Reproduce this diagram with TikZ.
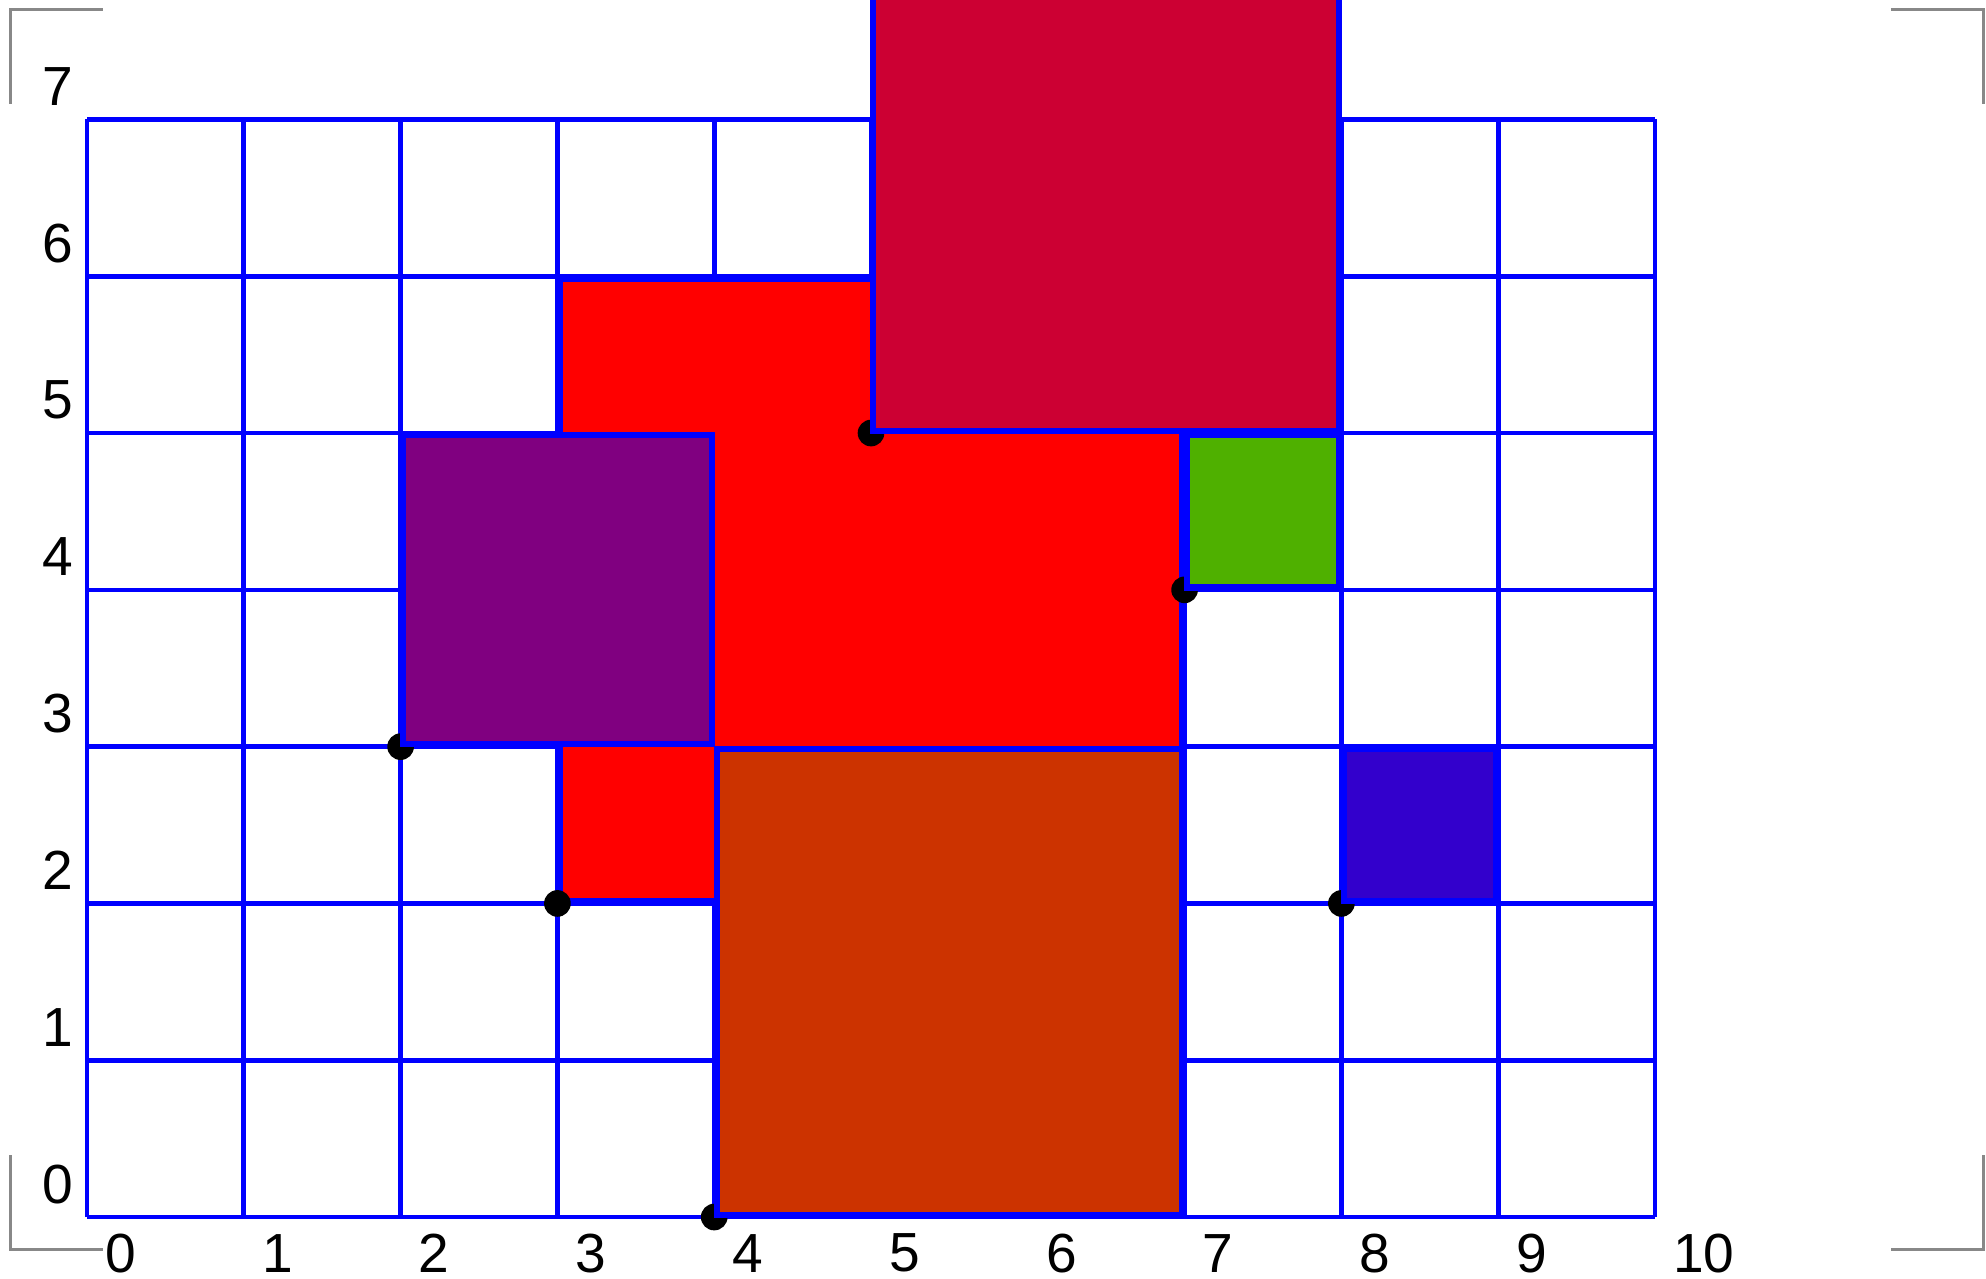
\documentclass[tikz,border=0pt]{standalone}
\usepackage{fontspec}
\setmainfont{Liberation Sans}
\usetikzlibrary{positioning}
\definecolor{gridblue}{RGB}{0,0,255}
\definecolor{rred}{RGB}{255,0,0}
\definecolor{crimson}{RGB}{204,0,51}
\definecolor{plum}{RGB}{128,0,128}
\definecolor{leafgreen}{RGB}{79,176,0}
\definecolor{rust}{RGB}{204,51,0}
\definecolor{indigo}{RGB}{51,0,204}
\definecolor{markgray}{RGB}{136,136,136}

\begin{document}
\begin{tikzpicture}[
		gridline/.style={draw=gridblue, line width=0.85pt},
		blk/.style={draw=gridblue, line width=1.1pt},
		corner/.style={circle, fill=black, inner sep=0pt, minimum size=0.17cm},
		num/.style={font=\fontsize{10}{12}\selectfont, inner sep=0pt, anchor=west},
		crop/.style={draw=markgray, line width=0.55pt}
	]
	\clip (-0.555,-0.395) rectangle (12.111,7.762);
	% crop marks
	\draw[crop] (0.1,7.70) -- (-0.49,7.70) -- (-0.49,7.10);
	\draw[crop] (11.505,7.70) -- (12.095,7.70) -- (12.095,7.10);
	\draw[crop] (-0.49,0.395) -- (-0.49,-0.21) -- (0.1,-0.21);
	\draw[crop] (12.095,0.395) -- (12.095,-0.21) -- (11.505,-0.21);
	% grid and numbers
	\draw[gridline] (0,0) grid (10,7);
	\foreach \i in {0,...,10}
		\node[num] (xl\i) at (\i+0.11,-0.23) {\i};
	\foreach \j in {0,...,7}
		\node[num] (yl\j) at (-0.29,\j+0.21) {\j};
	% blocks
	\draw[blk, fill=rred] (3.015,2.015) rectangle (6.985,5.985);
	\node[corner] (c1) at (3,2) {};
	\node[corner] (c2) at (2,3) {};
	\draw[blk, fill=plum] (2.015,3.015) rectangle (3.985,4.985);
	\node[corner] (c3) at (4,0) {};
	\draw[blk, fill=rust] (4.015,0.015) rectangle (6.985,2.985);
	\node[corner] (c4) at (5,5) {};
	\draw[blk, fill=crimson] (5.015,5.015) rectangle (7.985,8.5);
	\node[corner] (c5) at (7,4) {};
	\draw[blk, fill=leafgreen] (7.015,4.015) rectangle (7.985,4.985);
	\node[corner] (c6) at (8,2) {};
	\draw[blk, fill=indigo] (8.015,2.015) rectangle (8.985,2.985);
\end{tikzpicture}
\end{document}
